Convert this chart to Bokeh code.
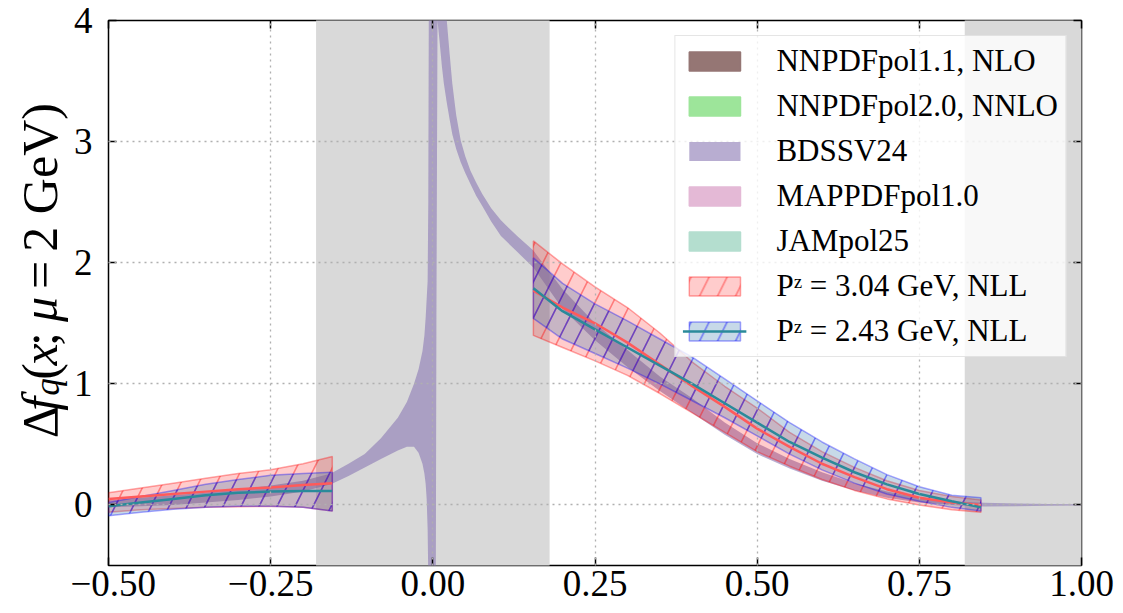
import numpy as np
from bokeh.plotting import figure
from bokeh.layouts import row
from bokeh.models import Range1d, LinearAxis, FixedTicker, Legend, LegendItem, Label
from bokeh.embed import file_html
from bokeh.resources import INLINE

FONT = "Liberation Serif"

# ---------------- data ----------------
x_ticks = [-0.5, -0.25, 0.0, 0.25, 0.5, 0.75, 1.0]
x_tick_labels = ["\u22120.50", "\u22120.25", "0.00", "0.25", "0.50", "0.75", "1.00"]
y_ticks = [0, 1, 2, 3, 4]
y_tick_labels = ["0", "1", "2", "3", "4"]

shade_left = [-0.18, 0.82]
shade_right = [0.18, 1.05]

# lattice, left segment
x_left = [-0.5, -0.45, -0.4, -0.35, -0.3, -0.25, -0.2, -0.155]
pz304_mid_left = [0.05, 0.07, 0.09, 0.11, 0.13, 0.145, 0.165, 0.18]
pz304_hi_left = [0.10, 0.14, 0.18, 0.22, 0.26, 0.29, 0.34, 0.40]
pz304_lo_left = [-0.06, -0.04, -0.03, -0.02, -0.015, -0.01, -0.02, -0.05]
pz243_mid_left = [-0.01, 0.02, 0.05, 0.08, 0.10, 0.11, 0.115, 0.115]
pz243_hi_left = [0.02, 0.07, 0.12, 0.17, 0.21, 0.245, 0.26, 0.27]
pz243_lo_left = [-0.09, -0.06, -0.035, -0.02, -0.01, -0.01, -0.02, -0.05]

# lattice, right segment
x_right = [0.155, 0.2, 0.25, 0.3, 0.35, 0.4, 0.45, 0.5, 0.55, 0.6, 0.65, 0.7, 0.75, 0.8, 0.845]
pz304_mid_right = [1.77, 1.63, 1.50, 1.34, 1.16, 0.98, 0.81, 0.63, 0.48, 0.34, 0.23, 0.13, 0.06, 0.02, 0.0]
pz304_hi_right = [2.18, 1.99, 1.80, 1.63, 1.42, 1.18, 0.98, 0.80, 0.60, 0.44, 0.31, 0.20, 0.12, 0.07, 0.04]
pz304_lo_right = [1.40, 1.30, 1.19, 1.07, 0.92, 0.76, 0.60, 0.44, 0.32, 0.21, 0.12, 0.05, 0.0, -0.04, -0.06]
pz243_mid_right = [1.79, 1.60, 1.45, 1.30, 1.15, 1.00, 0.84, 0.68, 0.52, 0.39, 0.27, 0.17, 0.09, 0.03, -0.02]
pz243_hi_right = [2.04, 1.83, 1.66, 1.52, 1.37, 1.22, 1.04, 0.86, 0.68, 0.52, 0.38, 0.25, 0.15, 0.08, 0.06]
pz243_lo_right = [1.54, 1.37, 1.25, 1.13, 1.00, 0.86, 0.72, 0.57, 0.42, 0.29, 0.18, 0.09, 0.03, -0.02, -0.05]

# global fit band (BDSSV24)
x_bdssv = [-0.5, -0.45, -0.4, -0.35, -0.3, -0.25, -0.2, -0.157, -0.13, -0.105, -0.08, -0.054,
           -0.04, -0.029, -0.022, -0.016, -0.013, -0.011, -0.0095, -0.008, -0.007, -0.006,
           -0.003, 0.0, 0.003, 0.0046, 0.0055, 0.0072, 0.01, 0.014, 0.017, 0.0215, 0.026,
           0.030, 0.036, 0.043, 0.050, 0.058, 0.067, 0.076, 0.090, 0.105, 0.13, 0.155, 0.2,
           0.25, 0.3, 0.35, 0.4, 0.45, 0.5, 0.55, 0.6, 0.65, 0.7, 0.75, 0.8, 0.85, 0.9, 0.95, 1.0]
bdssv_lo = [-0.02, -0.01, 0.0, 0.02, 0.04, 0.07, 0.11, 0.17, 0.24, 0.31, 0.38, 0.45,
            0.48, 0.48, 0.43, 0.34, 0.26, 0.17, 0.05, -0.2, -0.6, -1.5,
            -3.0, -5.0, -5.0, -0.6, 1.5, 4.0, 3.85, 3.62, 3.48, 3.32, 3.18,
            3.06, 2.94, 2.83, 2.74, 2.65, 2.55, 2.47, 2.34, 2.22, 2.09, 1.96, 1.62,
            1.36, 1.14, 0.94, 0.76, 0.58, 0.42, 0.30, 0.20, 0.12, 0.06, 0.02, 0.0, -0.012, -0.01, -0.006, -0.004]
bdssv_hi = [0.04, 0.06, 0.08, 0.10, 0.13, 0.16, 0.20, 0.26, 0.34, 0.42, 0.55, 0.72,
            0.85, 1.00, 1.12, 1.27, 1.40, 1.55, 1.70, 1.85, 2.5, 4.5,
            8.0, 10.0, 10.0, 10.0, 9.0, 7.5, 6.0, 5.0, 4.5, 4.0, 3.72,
            3.48, 3.22, 3.01, 2.88, 2.76, 2.66, 2.57, 2.45, 2.35, 2.22, 2.10, 1.78,
            1.50, 1.28, 1.06, 0.88, 0.68, 0.51, 0.38, 0.27, 0.18, 0.11, 0.06, 0.03, 0.018, 0.012, 0.008, 0.005]

legend_labels = ["NNPDFpol1.1, NLO", "NNPDFpol2.0, NNLO", "BDSSV24", "MAPPDFpol1.0", "JAMpol25",
                 "P\u1dbb = 3.04 GeV, NLL", "P\u1dbb = 2.43 GeV, NLL"]

# ---------------- layout geometry ----------------
W, H = 1123, 613
LW = 70                       # width of the strip that carries the y-axis title
FL, FR, FT, FB = 107, 42, 20, 48
X0, X1, Y0, Y1 = -0.5, 1.0, -0.5, 4.0

# ---------------- y-axis title strip ----------------
lab = figure(width=LW, height=H, output_backend="svg", toolbar_location=None,
             x_range=Range1d(0, LW), y_range=Range1d(0, H),
             x_axis_type=None, y_axis_type=None, min_border=0,
             outline_line_color=None, background_fill_color="white", border_fill_color="white")
base_px = 39
fs = 50
segments = [("\u0394", 95, "normal", fs, 0),
            ("f", 126, "italic", fs, 0),
            ("q", 143, "italic", 35, 8),
            ("(", 161, "normal", fs, 0),
            ("x", 177, "italic", fs, 0),
            (";", 199, "normal", fs, 0),
            ("\u03bc", 226, "italic", fs, 0),
            ("=", 263, "normal", fs, 0),
            ("2 GeV)", 305, "normal", fs, 0)]
for txt, ys, style, size, dx in segments:
    lab.add_layout(Label(x=base_px + dx, y=FB + ys, text=txt,
                         angle=np.pi / 2, text_align="left", text_baseline="alphabetic",
                         text_font=FONT, text_font_style=style, text_font_size=f"{size}px",
                         text_color="black"))

# ---------------- main figure ----------------
p = figure(width=W - LW, height=H, output_backend="svg", toolbar_location=None,
           x_range=Range1d(X0, X1), y_range=Range1d(Y0, Y1),
           min_border_left=FL - LW, min_border_right=FR, min_border_top=FT, min_border_bottom=FB,
           background_fill_color="white", border_fill_color="white")
p.outline_line_color = "black"
p.outline_line_width = 1.5

# shaded regions
p.quad(left=shade_left, right=shade_right, bottom=-10, top=10,
       fill_color="#d9d9d9", line_color=None)

# legend-only global fits (covered in the figure)
pheno_colors = {"NNPDFpol1.1, NLO": "#957674", "NNPDFpol2.0, NNLO": "#9de59a",
                "MAPPDFpol1.0": "#e4b9d6", "JAMpol25": "#b4decf"}
pheno_r = {}
for name, c in pheno_colors.items():
    pheno_r[name] = p.patch(x=[np.nan], y=[np.nan], fill_color=c, fill_alpha=1.0,
                            line_color=c, line_width=1.5)

r_bdssv = p.varea(x=x_bdssv, y1=bdssv_lo, y2=bdssv_hi, fill_color="#8c7ab4", fill_alpha=0.62)


def band(xs, lo, hi, fill, fa, edge, ea, hatch, ha):
    xs = list(xs)
    return p.patch(x=xs + xs[::-1], y=list(hi) + list(lo)[::-1],
                   fill_color=fill, fill_alpha=fa, line_color=edge, line_alpha=ea, line_width=1.5,
                   hatch_pattern="/", hatch_color=hatch, hatch_alpha=ha, hatch_scale=36, hatch_weight=1.6)


r_red_l = band(x_left, pz304_lo_left, pz304_hi_left, "red", 0.2, "red", 0.35, "red", 0.4)
r_red_r = band(x_right, pz304_lo_right, pz304_hi_right, "red", 0.2, "red", 0.35, "red", 0.4)
r_blue_l = band(x_left, pz243_lo_left, pz243_hi_left, "steelblue", 0.3, "blue", 0.35, "blue", 0.45)
r_blue_r = band(x_right, pz243_lo_right, pz243_hi_right, "steelblue", 0.3, "blue", 0.35, "blue", 0.45)

p.line(x_left, pz304_mid_left, line_color="#ff5a5a", line_width=2.5)
p.line(x_right, pz304_mid_right, line_color="#ff5a5a", line_width=2.5)
r_teal_l = p.line(x_left, pz243_mid_left, line_color="#2a8a9a", line_width=2.5)
p.line(x_right, pz243_mid_right, line_color="#2a8a9a", line_width=2.5)

# ---------------- axes ----------------
def style_axis(ax, ticks, labels, show_labels):
    ax.ticker = FixedTicker(ticks=ticks)
    ax.major_tick_in = 8
    ax.major_tick_out = 0
    ax.major_tick_line_width = 1.5
    ax.major_tick_line_color = "black"
    ax.minor_tick_line_color = None
    ax.axis_line_color = None
    if show_labels:
        ax.major_label_overrides = dict(zip(ticks, labels))
        ax.major_label_text_font = FONT
        ax.major_label_text_font_size = "37px"
        ax.major_label_text_color = "black"
    else:
        ax.major_label_text_font_size = "1px"
        ax.major_label_text_color = None
        ax.major_label_standoff = 0


style_axis(p.xaxis[0], x_ticks, x_tick_labels, True)
p.xaxis[0].major_label_standoff = 5
style_axis(p.yaxis[0], y_ticks, y_tick_labels, True)
p.yaxis[0].major_label_standoff = 16

ax_top = LinearAxis()
style_axis(ax_top, x_ticks, x_tick_labels, False)
p.add_layout(ax_top, "above")
ax_right = LinearAxis()
style_axis(ax_right, y_ticks, y_tick_labels, False)
p.add_layout(ax_right, "right")

for g, t in ((p.xgrid[0], x_ticks), (p.ygrid[0], y_ticks)):
    g.ticker = FixedTicker(ticks=t)
    g.grid_line_color = "#b0b0b0"
    g.grid_line_dash = "2 4"
    g.grid_line_width = 1.3
    g.level = "guide"

# ---------------- legend ----------------
items = [LegendItem(label=legend_labels[0], renderers=[pheno_r["NNPDFpol1.1, NLO"]]),
         LegendItem(label=legend_labels[1], renderers=[pheno_r["NNPDFpol2.0, NNLO"]]),
         LegendItem(label=legend_labels[2], renderers=[r_bdssv]),
         LegendItem(label=legend_labels[3], renderers=[pheno_r["MAPPDFpol1.0"]]),
         LegendItem(label=legend_labels[4], renderers=[pheno_r["JAMpol25"]]),
         LegendItem(label=legend_labels[5], renderers=[r_red_l]),
         LegendItem(label=legend_labels[6], renderers=[r_blue_l, r_teal_l])]
legend = Legend(items=items, location="top_right", margin=15, padding=7, spacing=9,
                glyph_width=64, glyph_height=24, label_height=24, label_standoff=30,
                label_text_font=FONT, label_text_font_size="31px", label_text_color="black",
                background_fill_color="white", background_fill_alpha=0.8,
                border_line_color="#cccccc", border_line_width=1.5)
p.add_layout(legend)

layout = row(lab, p, spacing=0)
open("out.html", "w").write(file_html(layout, INLINE))
